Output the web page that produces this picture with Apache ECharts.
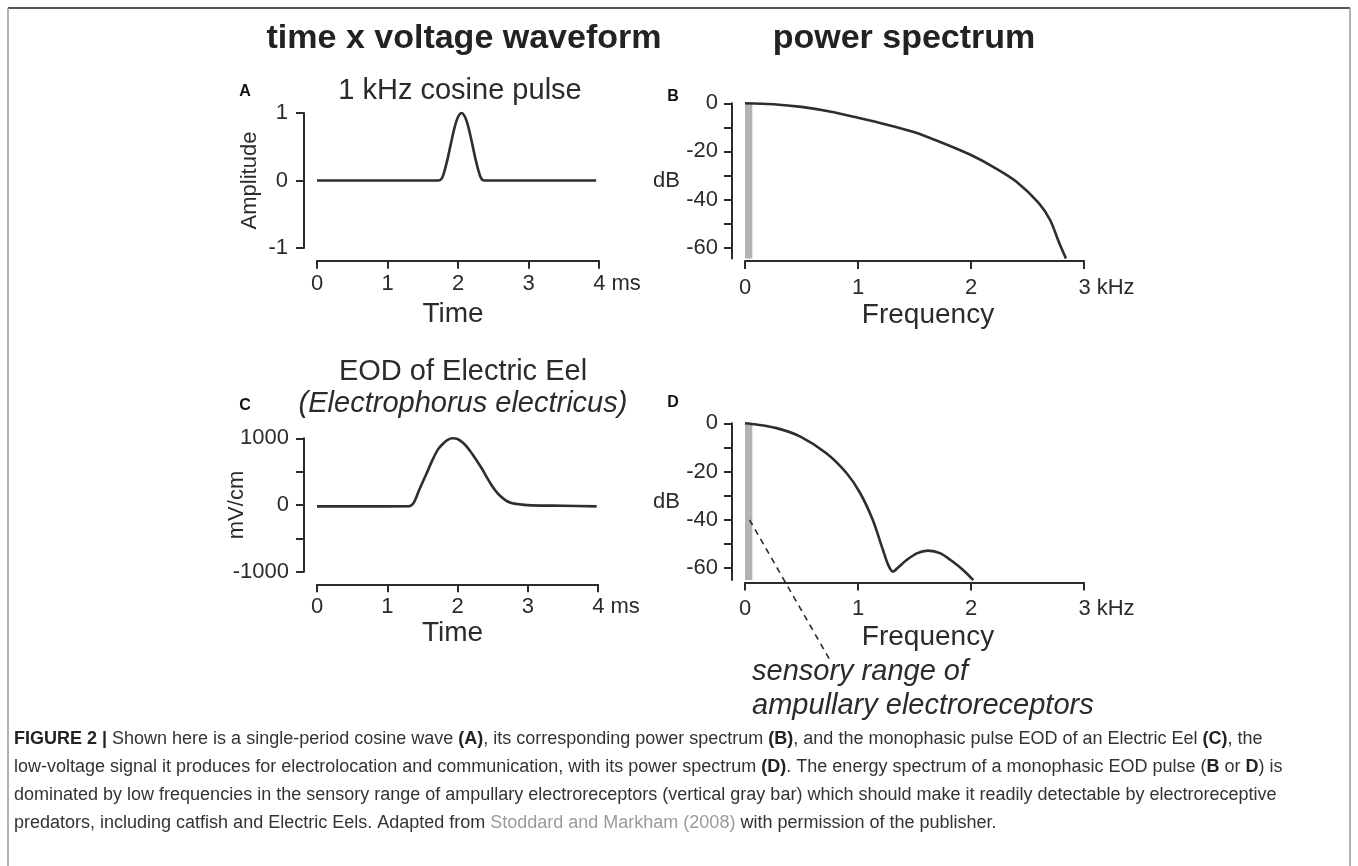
<!DOCTYPE html>
<html><head><meta charset="utf-8">
<script src="https://cdn.jsdelivr.net/npm/echarts@6/dist/echarts.min.js"></script>
<style>html,body{margin:0;padding:0;background:#fff}#c{width:1358px;height:866px}</style>
</head><body><div id="c"></div>
<script>
const FONT = "'Liberation Sans', Arial, Helvetica, sans-serif";
const INK = '#2b2b2b';
const LINE = '#2e2e2a';

// Panel A: 1 kHz cosine pulse (time in ms, amplitude)
const timeA = [0, 1.72, 1.77, 1.80, 1.85, 1.90, 1.95, 2.00, 2.05, 2.10, 2.15, 2.20, 2.25, 2.30, 2.33, 2.37, 3.96];
const ampA  = [0, 0, 0.03, 0.11, 0.31, 0.55, 0.78, 0.94, 1.0, 0.94, 0.78, 0.55, 0.31, 0.11, 0.03, 0, 0];

// Panel B: power spectrum of the cosine pulse (kHz, dB)
const freqB = [0, 0.25, 0.5, 0.75, 1.0, 1.25, 1.5, 1.75, 2.0, 2.2, 2.4, 2.6, 2.7, 2.78, 2.84];
const dbB   = [0, -0.4, -1.5, -3.4, -6, -8.8, -12, -16.5, -21.5, -26.5, -32.5, -41.5, -48.5, -58, -64.5];

// Panel C: EOD of Electric Eel (time in ms, mV/cm)
const timeC = [0, 0.5, 1.0, 1.31, 1.38, 1.45, 1.55, 1.64, 1.72, 1.79, 1.86, 1.93, 2.00, 2.07, 2.14, 2.21, 2.28, 2.35, 2.42, 2.49, 2.56, 2.63, 2.70, 2.78, 2.92, 3.06, 3.5, 3.98];
const mvC   = [-20, -20, -20, -18, 40, 215, 450, 665, 830, 915, 975, 1000, 990, 940, 865, 765, 655, 540, 410, 290, 190, 115, 60, 25, 5, -5, -12, -20];

// Panel D: power spectrum of the EOD (kHz, dB)
const freqD = [0, 0.1, 0.28, 0.49, 0.72, 0.90, 1.02, 1.13, 1.22, 1.27, 1.31, 1.35, 1.43, 1.52, 1.62, 1.73, 1.84, 1.93, 2.02];
const dbD   = [0, -0.5, -2, -5.5, -12.4, -20.7, -29, -40, -52.4, -59, -61.5, -60, -56.7, -53.9, -52.8, -53.9, -57.4, -60.8, -65];

// axes / ticks
const timeTicks = [0, 1, 2, 3, 4];
const freqTicks = [0, 1, 2, 3];
const dbTickValues = [0, -10, -20, -30, -40, -50, -60];
const dbLabelValues = [0, -20, -40, -60];
const dbMinB = -64.5, dbMinD = -65;

// sensory range of ampullary electroreceptors (kHz)
const sensoryRange = [0, 0.065];
// annotation pointer (kHz, dB) in panel D coordinates
const pointer = [[0.04, -40], [0.75, -98]];

const headings = ['time x voltage waveform', 'power spectrum'];
const titleA = '1 kHz cosine pulse';
const titleC = ['EOD of Electric Eel', '(Electrophorus electricus)'];
const annotationText = ['sensory range of', 'ampullary electroreceptors'];
const captionLines = [
  '{b|FIGURE 2 |} Shown here is a single-period cosine wave {b|(A)}, its corresponding power spectrum {b|(B)}, and the monophasic pulse EOD of an Electric Eel {b|(C)}, the',
  'low-voltage signal it produces for electrolocation and communication, with its power spectrum {b|(D)}. The energy spectrum of a monophasic EOD pulse ({b|B} or {b|D}) is',
  'dominated by low frequencies in the sensory range of ampullary electroreceptors (vertical gray bar) which should make it readily detectable by electroreceptive',
  'predators, including catfish and Electric Eels. Adapted from {g|Stoddard and Markham (2008)} with permission of the publisher.'
];

const zip = (a, b) => a.map((v, i) => [v, b[i]]);

const axisLineStyle = { onZero: false, lineStyle: { color: INK, width: 2 } };
const tickStyle = { length: 8, lineStyle: { color: INK, width: 2 } };
const labelBase = { color: INK, fontSize: 22, fontFamily: FONT };

function xAxisFor(grid, max, unit, offset, margin, nameGap, namePad) {
  const last = max;
  return {
    type: 'value', gridIndex: grid, min: 0, max: max, interval: 1, position: 'bottom', offset: offset,
    axisLine: axisLineStyle, axisTick: tickStyle, splitLine: { show: false },
    axisLabel: Object.assign({}, labelBase, {
      margin: margin,
      formatter: v => v === last ? '{u|' + v + ' ' + unit + '}' : String(v),
      rich: { u: { color: INK, fontSize: 22, fontFamily: FONT, padding: [0, 0, 0, unit === 'ms' ? 36 : 45] } }
    }),
    name: unit === 'ms' ? 'Time' : 'Frequency', nameLocation: 'middle', nameGap: nameGap, nameMoveOverlap: false,
    nameTextStyle: { color: INK, fontSize: 28, fontFamily: FONT, padding: namePad }
  };
}

const xAxes = [
  xAxisFor(0, timeTicks[timeTicks.length - 1], 'ms', 12.7, 12, 40, [0, 10, 0, 0]),
  xAxisFor(1, freqTicks[freqTicks.length - 1], 'kHz', 2.4, 16, 40, [0, 0, 0, 27]),
  xAxisFor(2, timeTicks[timeTicks.length - 1], 'ms', 12.6, 12, 35, [0, 10, 0, 0]),
  xAxisFor(3, freqTicks[freqTicks.length - 1], 'kHz', 2.3, 16, 41, [0, 0, 0, 27])
];

const yAxes = [
  { type: 'value', gridIndex: 0, min: -1, max: 1, interval: 1, offset: 13,
    axisLine: axisLineStyle, axisTick: tickStyle, splitLine: { show: false },
    axisLabel: Object.assign({}, labelBase, { margin: 16 }),
    name: 'Amplitude', nameLocation: 'middle', nameRotate: 90, nameGap: 43, nameMoveOverlap: false,
    nameTextStyle: { color: INK, fontSize: 22, fontFamily: FONT } },
  { type: 'value', gridIndex: 1, min: dbMinB, max: 0, offset: 13,
    axisLine: axisLineStyle, axisTick: Object.assign({ customValues: dbTickValues }, tickStyle), splitLine: { show: false },
    axisLabel: Object.assign({}, labelBase, { margin: 14, customValues: dbLabelValues }),
    name: 'dB', nameLocation: 'middle', nameRotate: 0, nameGap: 52, nameMoveOverlap: false,
    nameTextStyle: { color: INK, fontSize: 22, fontFamily: FONT, padding: [0, 0, 14, 0] } },
  { type: 'value', gridIndex: 2, min: -1000, max: 1000, interval: 500, offset: 13,
    axisLine: axisLineStyle, axisTick: tickStyle, splitLine: { show: false },
    axisLabel: Object.assign({}, labelBase, { margin: 15, formatter: v => (v % 1000 === 0 ? String(v) : '') }),
    name: 'mV/cm', nameLocation: 'middle', nameRotate: 90, nameGap: 56, nameMoveOverlap: false,
    nameTextStyle: { color: INK, fontSize: 22, fontFamily: FONT } },
  { type: 'value', gridIndex: 3, min: dbMinD, max: 0, offset: 13,
    axisLine: axisLineStyle, axisTick: Object.assign({ customValues: dbTickValues }, tickStyle), splitLine: { show: false },
    axisLabel: Object.assign({}, labelBase, { margin: 14, customValues: dbLabelValues }),
    name: 'dB', nameLocation: 'middle', nameRotate: 0, nameGap: 52, nameMoveOverlap: false,
    nameTextStyle: { color: INK, fontSize: 22, fontFamily: FONT, padding: [0, 0, 14, 0] } }
];

function lineSeries(i, xs, ys, withBar, minDb) {
  const s = {
    type: 'line', xAxisIndex: i, yAxisIndex: i, data: zip(xs, ys), showSymbol: false, smooth: 0.3,
    lineStyle: { color: LINE, width: 2.6 }, z: 3, silent: true
  };
  if (withBar) {
    s.markArea = { silent: true, itemStyle: { color: '#b3b3b3', opacity: 1 },
      data: [[{ coord: [sensoryRange[0], 0] }, { coord: [sensoryRange[1], minDb] }]] };
  }
  return s;
}

const T = (x, y, text, font, extra) => ({ type: 'text', x: x, y: y, silent: true,
  style: Object.assign({ text: text, font: font, fill: INK, align: 'center', verticalAlign: 'middle' }, extra || {}) });

const graphics = [
  { type: 'line', silent: true, shape: { x1: 8, y1: 8, x2: 1350, y2: 8 }, style: { stroke: '#555', lineWidth: 2 } },
  { type: 'line', silent: true, shape: { x1: 8, y1: 8, x2: 8, y2: 866 }, style: { stroke: '#999', lineWidth: 1.5 } },
  { type: 'line', silent: true, shape: { x1: 1350, y1: 8, x2: 1350, y2: 866 }, style: { stroke: '#999', lineWidth: 1.5 } },
  T(464, 39, headings[0], 'bold 34px ' + FONT, { fill: '#222' }),
  T(904, 39, headings[1], 'bold 34px ' + FONT, { fill: '#222' }),
  T(460, 91, titleA, '29px ' + FONT),
  T(463, 372, titleC[0], '29px ' + FONT),
  T(463, 404, titleC[1], 'italic 29px ' + FONT),
  T(245, 92, 'A', 'bold 16px ' + FONT, { fill: '#111' }),
  T(673, 97, 'B', 'bold 16px ' + FONT, { fill: '#111' }),
  T(245, 406, 'C', 'bold 16px ' + FONT, { fill: '#111' }),
  T(673, 403, 'D', 'bold 16px ' + FONT, { fill: '#111' }),
  T(752, 672, annotationText[0], 'italic 29px ' + FONT, { align: 'left' }),
  T(752, 706, annotationText[1], 'italic 29px ' + FONT, { align: 'left' })
];
captionLines.forEach((ln, i) => {
  graphics.push({ type: 'text', x: 14, y: 739 + i * 28, silent: true,
    style: { text: ln, font: '18px ' + FONT, fill: '#333', align: 'left', verticalAlign: 'middle',
      rich: { b: { fontWeight: 'bold', fontSize: 18, fontFamily: FONT, fill: '#222' },
              g: { fontSize: 18, fontFamily: FONT, fill: '#9a9a9a' } } } });
});

const chart = echarts.init(document.getElementById('c'), null, { renderer: 'canvas' });
chart.setOption({
  animation: false,
  backgroundColor: '#fff',
  grid: [
    { left: 317, top: 113, width: 282, height: 135 },
    { left: 745, top: 103.3, width: 339, height: 155.2 },
    { left: 317, top: 438.3, width: 281, height: 133.4 },
    { left: 745, top: 423.3, width: 339, height: 156.8 }
  ],
  xAxis: xAxes,
  yAxis: yAxes,
  series: [
    lineSeries(0, timeA, ampA, false),
    lineSeries(1, freqB, dbB, true, dbMinB),
    lineSeries(2, timeC, mvC, false),
    lineSeries(3, freqD, dbD, true, dbMinD)
  ],
  graphic: graphics
});

// dashed pointer from the gray bar in panel D to the annotation text
const p0 = chart.convertToPixel({ gridIndex: 3 }, pointer[0]);
const p1 = chart.convertToPixel({ gridIndex: 3 }, pointer[1]);
graphics.push({ type: 'line', silent: true, z: 10,
  shape: { x1: p0[0], y1: p0[1], x2: p1[0], y2: p1[1] },
  style: { stroke: INK, lineWidth: 1.6, lineDash: [6, 5] } });
chart.setOption({ graphic: graphics });
</script>
</body></html>
